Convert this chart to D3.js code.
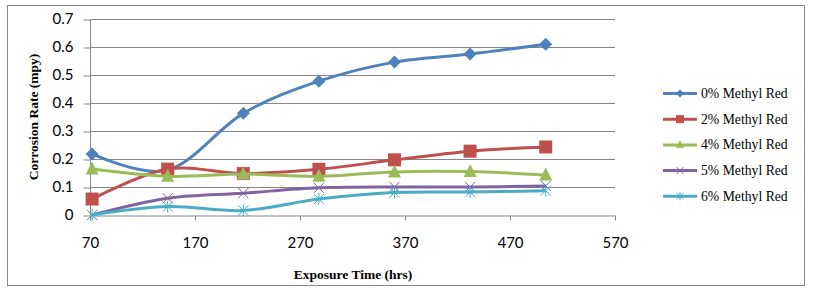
<!DOCTYPE html>
<html><head><meta charset="utf-8">
<script src="https://cdn.jsdelivr.net/npm/d3@7"></script>
<style>body{margin:0;background:#fff}svg{display:block}</style>
</head><body>
<svg id="c" width="813" height="290"></svg>
<script>
const hours = [72, 144, 216, 288, 360, 432, 504];
const seriesNames = ["0% Methyl Red", "2% Methyl Red", "4% Methyl Red", "5% Methyl Red", "6% Methyl Red"];
const mr0 = [0.218, 0.16, 0.363, 0.478, 0.546, 0.575, 0.61];
const mr2 = [0.057, 0.164, 0.148, 0.163, 0.197, 0.228, 0.243];
const mr4 = [0.164, 0.138, 0.146, 0.138, 0.154, 0.155, 0.143];
const mr5 = [0.0, 0.06, 0.078, 0.097, 0.1, 0.1, 0.104];
const mr6 = [0.0, 0.03, 0.016, 0.057, 0.08, 0.082, 0.087];
const xTicks = [70, 170, 270, 370, 470, 570];
const yTicks = [0, 0.1, 0.2, 0.3, 0.4, 0.5, 0.6, 0.7];
const colors = ["#4F81BD", "#C0504D", "#9BBB59", "#8064A2", "#4BACC6"];
const markers = ["diamond", "square", "triangle", "x", "star"];
const allSeries = [mr0, mr2, mr4, mr5, mr6];

const svg = d3.select("#c");
svg.append("rect").attr("x", 7.5).attr("y", 5.5).attr("width", 797).attr("height", 280)
  .attr("fill", "#fff").attr("stroke", "#888").attr("stroke-width", 1);

const x = d3.scaleLinear().domain([70, 570]).range([90, 615]);
const y = d3.scaleLinear().domain([0, 0.7]).range([215, 19]);

// gridlines
svg.append("g").selectAll("line").data(yTicks.slice(1)).join("line")
  .attr("x1", 90).attr("x2", 615)
  .attr("y1", d => Math.round(y(d)) + 0.5).attr("y2", d => Math.round(y(d)) + 0.5)
  .attr("stroke", "#868686").attr("stroke-width", 1);

// y axis
const yAxis = d3.axisLeft(y).tickValues(yTicks).tickSize(7).tickPadding(10)
  .tickFormat(d => d === 0 ? "0" : d3.format(".1f")(d));
const gy = svg.append("g").attr("transform", "translate(90.5,0)").call(yAxis);
gy.select(".domain").attr("stroke", "#868686").attr("d", "M0,19H0V215");
gy.selectAll(".tick line").attr("stroke", "#868686").attr("transform", "translate(0,0.5)");
gy.selectAll("text").attr("font-family", "Lato, 'Open Sans', sans-serif").attr("font-size", 15).attr("fill", "#000");

// x axis
const xAxis = d3.axisBottom(x).tickValues(xTicks).tickSize(5).tickPadding(17).tickFormat(d3.format("d"));
const gx = svg.append("g").attr("transform", "translate(0,215.5)").call(xAxis);
gx.select(".domain").attr("stroke", "#868686").attr("d", "M90,0.5H615");
gx.selectAll(".tick line").attr("stroke", "#868686");
gx.selectAll("text").attr("font-family", "Lato, 'Open Sans', sans-serif").attr("font-size", 15).attr("fill", "#000");

// titles
svg.append("text").attr("x", 353).attr("y", 279).attr("text-anchor", "middle")
  .attr("font-family", "'Liberation Serif', 'Times New Roman', serif").attr("font-weight", "bold")
  .attr("font-size", 13.5).text("Exposure Time (hrs)");
svg.append("text").attr("transform", "translate(38,117) rotate(-90)").attr("text-anchor", "middle")
  .attr("font-family", "'Liberation Serif', 'Times New Roman', serif").attr("font-weight", "bold")
  .attr("font-size", 13.5).text("Corrosion Rate (mpy)");

function drawMarker(g, type, cx, cy, s, color) {
  const h = s / 2;
  if (type === "diamond") {
    g.append("path").attr("d", `M${cx},${cy-h}L${cx+h},${cy}L${cx},${cy+h}L${cx-h},${cy}Z`).attr("fill", color);
  } else if (type === "square") {
    g.append("rect").attr("x", cx - h).attr("y", cy - h).attr("width", s).attr("height", s).attr("fill", color);
  } else if (type === "triangle") {
    g.append("path").attr("d", `M${cx},${cy-h-1}L${cx+h},${cy+h-1}L${cx-h},${cy+h-1}Z`).attr("fill", color);
  } else if (type === "x") {
    const k = h * 0.85;
    g.append("path").attr("d", `M${cx-k},${cy-k}L${cx+k},${cy+k}M${cx+k},${cy-k}L${cx-k},${cy+k}`)
      .attr("stroke", color).attr("stroke-width", 1).attr("fill", "none");
  } else {
    const k = h * 0.85;
    g.append("path").attr("d", `M${cx-k},${cy-k}L${cx+k},${cy+k}M${cx+k},${cy-k}L${cx-k},${cy+k}M${cx},${cy-h}L${cx},${cy+h}`)
      .attr("stroke", color).attr("stroke-width", 1).attr("fill", "none");
  }
}

const line = d3.line().x((d, i) => x(hours[i])).y(d => y(d)).curve(d3.curveCardinal.tension(0));
const sizes = [13, 13, 13, 12, 12];
allSeries.forEach((vals, si) => {
  const g = svg.append("g");
  g.append("path").attr("d", line(vals)).attr("fill", "none").attr("stroke", colors[si]).attr("stroke-width", 3);
  vals.forEach((v, i) => drawMarker(g, markers[si], x(hours[i]), y(v), sizes[si], colors[si]));
});

// legend
const lg = svg.append("g");
seriesNames.forEach((name, i) => {
  const ly = 93.5 + i * 25.7;
  lg.append("line").attr("x1", 663).attr("x2", 697).attr("y1", ly).attr("y2", ly)
    .attr("stroke", colors[i]).attr("stroke-width", 3);
  drawMarker(lg, markers[i], 680, ly, 8, colors[i]);
  lg.append("text").attr("x", 701).attr("y", ly + 4.5)
    .attr("font-family", "'Liberation Serif', 'Times New Roman', serif").attr("font-size", 13.7).text(name);
});
</script>
</body></html>
